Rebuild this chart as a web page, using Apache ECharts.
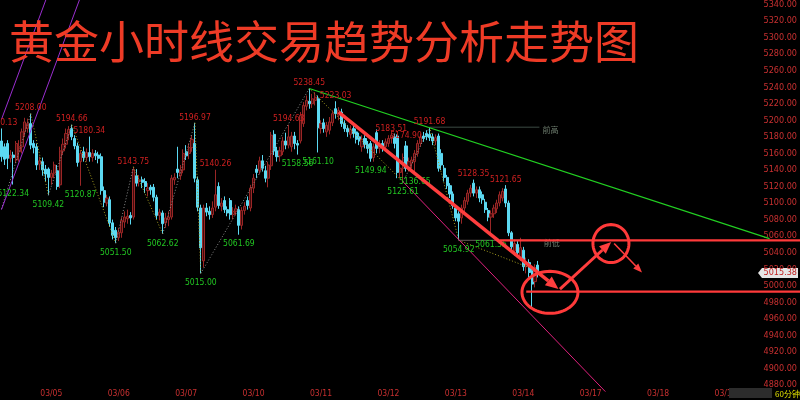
<!DOCTYPE html>
<html><head><meta charset="utf-8">
<script src="https://cdn.jsdelivr.net/npm/echarts@6/dist/echarts.min.js"></script>
<style>html,body{margin:0;padding:0;background:#000;}#c{width:800px;height:400px;}</style>
</head><body><div id="c"></div>
<script>
// ---------- data ----------
const titleText = '黄金小时线交易趋势分析走势图';
const dayLabels = ['03/04','03/05','03/06','03/07','03/10','03/11','03/12','03/13','03/14','03/17','03/18','03/19'];
const barsPerDay = [17,23,23,23,23,23,23,23,23,23,23,16];
const yMin = 4880, yMax = 5340, yStep = 20;
const lastPrice = 5015.38;
// [open, close, low, high]
const candles = [
[5175,5156,5150,5190.13],[5168,5153,5146,5172],[5172,5154,5141,5176],[5154,5158,5149,5164],[5158,5155,5122.34,5162],
[5152,5172,5148,5175],[5162,5168,5150,5176],[5168,5186,5160,5190],[5186,5198,5180,5203],[5190,5196,5185,5202],
[5196,5170,5165,5208.00],[5172,5167,5160,5176],[5168,5146,5140,5172],[5147,5151,5140,5156],[5150,5140,5133,5155],
[5141,5135,5126,5146],[5141,5131,5109.42,5143],[5131,5136,5122,5140],[5136,5146,5130,5150],[5139,5120,5116,5146],
[5122,5163,5118,5168],[5163,5171,5158,5178],[5171,5184,5166,5190],[5183,5189,5176,5193],[5190,5180,5176,5194.66],
[5178,5169,5165,5182],[5169,5149,5144,5173],[5150,5160,5120.87,5164],[5162,5155,5150,5168],[5155,5161,5150,5166],
[5161,5156,5150,5180.34],[5155,5160,5150,5165],[5160,5157,5152,5164],[5158,5154,5148,5162],[5156,5115,5110,5160],
[5115,5101,5095,5120],[5100,5106,5096,5110],[5104,5076,5071,5108],[5076,5061,5056,5080],[5067,5058,5051.50,5071],
[5058,5065,5054,5070],[5064,5079,5058,5083],[5077,5083,5070,5090],[5081,5084,5075,5092],[5085,5082,5074,5089],
[5083,5140,5080,5143.75],[5133,5124,5120,5141],[5126,5128,5120,5134],[5128,5125,5118,5132],[5126,5120,5112,5130],
[5115,5118,5108,5124],[5119,5116,5110,5122],[5119,5107,5102,5123],[5107,5085,5080,5110],[5085,5089,5079,5093],
[5088,5075,5062.62,5091],[5076,5082,5070,5088],[5080,5083,5072,5090],[5083,5130,5080,5134],[5128,5131,5122,5136],
[5141,5137,5130,5168],[5133,5140,5128,5146],[5140,5160,5136,5165],[5162,5157,5152,5170],[5160,5167,5153,5172],
[5167,5177,5162,5182],[5172,5130,5125,5196.97],[5128,5095,5090,5132],[5094,5046,5015.00,5098],[5030,5094,5022,5098],
[5094,5089,5084,5100],[5090,5086,5080,5096],[5086,5094,5082,5102],[5095,5110,5090,5140.26],[5120,5097,5093,5125],
[5096,5100,5090,5106],[5103,5092,5088,5108],[5092,5088,5084,5096],[5103,5086,5080,5106],[5086,5090,5080,5095],
[5090,5093,5085,5098],[5092,5073,5061.69,5096],[5073,5091,5068,5095],[5091,5096,5086,5101],[5103,5097,5092,5108],
[5094,5118,5090,5122],[5118,5130,5112,5135],[5141,5137,5130,5146],[5139,5151,5135,5156],[5151,5142,5138,5158],
[5139,5130,5125,5145],[5130,5146,5119,5150],[5145,5182,5140,5186],[5183,5163,5158,5188],[5163,5156,5150,5168],
[5157,5163,5150,5168],[5162,5175,5158,5180],[5175,5170,5165,5185],[5170,5180,5166,5194.63],[5168,5181,5162,5186],
[5181,5172,5165,5186],[5172,5170,5158.56,5176],[5175,5206,5172,5210],[5196,5218,5192,5222],[5217,5224,5212,5230],
[5223,5220,5214,5238.45],[5220,5226,5215,5232],[5224,5228,5218,5234],[5226,5191,5161.10,5230],[5190,5196,5184,5200],
[5197,5190,5185,5202],[5186,5194,5180,5198],[5188,5198,5183,5204],[5197,5208,5193,5212],[5214,5208,5202,5223.03],
[5206,5212,5200,5216],[5210,5196,5192,5214],[5196,5190,5186,5200],[5190,5186,5180,5194],[5183,5189,5178,5194],
[5190,5184,5179,5194],[5186,5177,5172,5190],[5180,5175,5170,5185],[5168,5177,5162,5182],[5178,5171,5166,5182],
[5171,5166,5160,5175],[5172,5154,5149.94,5175],[5155,5168,5150,5172],[5185,5166,5160,5189],[5166,5172,5160,5176],
[5172,5168,5162,5176],[5168,5174,5162,5178],[5172,5178,5168,5182],[5178,5182,5172,5183.51],[5180,5172,5166,5184],
[5181,5137,5130,5183],[5137,5142,5130,5148],[5142,5155,5125.61,5160],[5169,5142,5138,5174.90],[5142,5150,5138,5155],
[5148,5152,5142,5156],[5150,5160,5136.65,5164],[5160,5172,5156,5176],[5172,5180,5168,5184],[5181,5178,5174,5186],
[5184,5180,5176,5188],[5183,5179,5175,5191.68],[5180,5175,5170,5184],[5175,5179,5170,5183],[5181,5142,5138,5184],
[5160,5146,5140,5165],[5142,5131,5126,5146],[5131,5121,5117,5134],[5121,5111,5106,5124],[5111,5097,5093,5114],
[5094,5082,5078,5097],[5087,5078,5054.92,5090],[5082,5094,5075,5098],[5094,5103,5088,5107],[5102,5112,5098,5116],
[5112,5118,5107,5122],[5124,5112,5108,5128.35],[5112,5116,5106,5120],[5116,5106,5101,5120],[5110,5104,5099,5114],
[5101,5092,5088,5105],[5091,5083,5078,5094],[5083,5087,5061.35,5091],[5087,5094,5082,5098],[5093,5100,5088,5104],
[5100,5110,5096,5114],[5106,5114,5102,5118],[5117,5100,5095,5121.65],[5100,5064,5060,5103],[5064,5047,5042,5066],
[5042,5051,5036,5056],[5050,5040,5034,5054],[5034,5046,5030,5058],[5043,5023,5018,5047],[5023,5028,5015,5034],
[5028,5016,5010,5032],[5018,5002,4974,5022],[5005,5022,4998,5026],[5025,5015.38,5010,5030]
];
// swing labels [barIndex, price]
const highPivots = [[0,5190.13],[10,5208.00],[24,5194.66],[30,5180.34],[45,5143.75],[66,5196.97],[73,5140.26],[98,5194.63],[105,5238.45],[114,5223.03],[133,5183.51],[138,5174.90],[146,5191.68],[161,5128.35],[172,5121.65]];
const lowPivots = [[4,5122.34],[16,5109.42],[27,5120.87],[39,5051.50],[55,5062.62],[68,5015.00],[81,5061.69],[101,5158.56],[108,5161.10],[126,5149.94],[137,5125.61],[141,5136.65],[156,5054.92],[167,5061.35]];
// zigzag path [barIndex, price]
const zigzag = [[0,5093],[10,5208],[16,5109.42],[24,5194.66],[39,5051.5],[45,5143.75],[55,5062.62],[66,5196.97],[68,5015],[105,5238.45],[137,5125.61],[146,5191.68],[156,5054.92],[180,5022]];
// drawn trend lines [[i,p],[i,p]]
const purpleA = [[0,5092],[30,5378]];
const purpleB = [[0,5201],[20,5392]];
const magentaLine = [[137,5125.61],[206,4872]];
const greenLine = [[105,5238.45],[262,5057]];
const arrowMain = [[115,5210],[190,4996]];
const arrowUp = [[190.5,4996],[208,5053]];
const arrowDown = [[209,5051],[218.5,5016]];
const prevHigh = {price:5191.68, from:146, to:183.5, text:'前高'};
const prevLow = {price:5054.92, from:156, to:184, text:'前低'};
const redLevels = [{price:5054.92, from:170},{price:4993, from:179}];
const circles = [{i:187.1, p:4992, rx:28, ry:21},{i:207.9, p:5051, rx:18, ry:19}];

// ---------- build ----------
const categories = [];
dayLabels.forEach((d,k)=>{ for(let h=0;h<barsPerDay[k];h++) categories.push(d+' '+String(h).padStart(2,'0')); });
const dayStarts = new Set();
{ let s=0; barsPerDay.forEach((n,k)=>{ if(k>0) dayStarts.add(s); s+=n; }); }

const NARROW = '"Liberation Sans Narrow","Arial Narrow","DejaVu Sans Condensed",sans-serif';
const chart = echarts.init(document.getElementById('c'));
chart.setOption({
  backgroundColor:'#000',
  animation:false,
  grid:{left:0,right:29,top:3.5,bottom:15},
  xAxis:{type:'category',data:categories,boundaryGap:true,
    axisLine:{show:false},axisTick:{show:false},splitLine:{show:false},
    axisLabel:{interval:(idx)=>dayStarts.has(idx),formatter:v=>v.slice(0,5),color:'#c83030',fontSize:8.5,fontFamily:NARROW,margin:4}},
  yAxis:{type:'value',position:'right',min:yMin,max:yMax,interval:yStep,
    axisLine:{show:false},axisTick:{show:false},splitLine:{show:false},
    axisLabel:{formatter:v=>v.toFixed(2),color:'#c83030',fontSize:9,fontFamily:NARROW,margin:26,align:'right',showMinLabel:true,showMaxLabel:true}},
  series:[{type:'candlestick',data:candles,barWidth:2.6,
    itemStyle:{color:'#3e0c0c',color0:'#5cd9f2',borderColor:'#9a2626',borderColor0:'#5cd9f2',borderWidth:1}}]
});

const x0 = chart.convertToPixel({xAxisIndex:0}, categories[0]);
const x1 = chart.convertToPixel({xAxisIndex:0}, categories[1]);
const X = i => x0 + i*(x1-x0);
const Y = p => chart.convertToPixel({yAxisIndex:0}, p);
const P = ([i,p]) => [X(i), Y(p)];

const g = [];
function line(a,b,stroke,w,dash,z){ g.push({type:'line',silent:true,z:z||20,shape:{x1:a[0],y1:a[1],x2:b[0],y2:b[1]},style:{stroke,lineWidth:w,lineDash:dash||null}}); }
function arrow(a,b,stroke,w,L,hw){
  const dx=b[0]-a[0], dy=b[1]-a[1], len=Math.hypot(dx,dy), ux=dx/len, uy=dy/len;
  const bx=b[0]-ux*L, by=b[1]-uy*L;
  line(a,[bx,by],stroke,w,null,30);
  g.push({type:'polygon',silent:true,z:30,shape:{points:[[b[0],b[1]],[bx-uy*hw,by+ux*hw],[bx+uy*hw,by-ux*hw]]},style:{fill:stroke}});
}
function text(x,y,t,fill,font,align,valign,z){ g.push({type:'text',silent:true,z:z||25,x,y,style:{text:t,fill,font,textAlign:align,textVerticalAlign:valign,align:align,verticalAlign:valign}}); }

// purple channel lines
line(P(purpleA[0]),P(purpleA[1]),'#9a2ed0',1);
line(P(purpleB[0]),P(purpleB[1]),'#9a2ed0',1);
// zigzag dotted legs
for(let k=0;k<zigzag.length-1;k++){
  const up = zigzag[k+1][1] > zigzag[k][1];
  line(P(zigzag[k]),P(zigzag[k+1]), up?'#8c8c8c':'#a8a020',1,[1,2],15);
}
// prev high/low grey lines
line(P([prevHigh.from,prevHigh.price]),P([prevHigh.to,prevHigh.price]),'#3c4a44',1);
text(X(prevHigh.to)+3,Y(prevHigh.price)+3,prevHigh.text,'#6f7f70','8px "Noto Sans CJK SC"','left','middle');
line(P([prevLow.from,prevLow.price]),P([prevLow.to,prevLow.price]),'#6a5a5a',1);
text(X(prevLow.to)+3,Y(prevLow.price)+3,prevLow.text,'#6f7f70','8px "Noto Sans CJK SC"','left','middle');
// magenta and green trend lines
line(P(magentaLine[0]),P(magentaLine[1]),'#e0207e',1);
line(P(greenLine[0]),P(greenLine[1]),'#22d022',1.2);
// red levels to right edge
redLevels.forEach(r=>line([X(r.from),Y(r.price)],[800,Y(r.price)],'#ff3a3a',2.2,null,40));
// arrows
arrow(P(arrowMain[0]),P(arrowMain[1]),'#ff3e3e',3.5,13,5.5);
arrow(P(arrowUp[0]),P(arrowUp[1]),'#ff3e3e',3,12,5);
arrow(P(arrowDown[0]),P(arrowDown[1]),'#ff3e3e',1.6,9,3.5);
// ellipses
circles.forEach(c=>{
  const cx=X(c.i), cy=Y(c.p), pts=[];
  for(let k=0;k<64;k++){ const t=k/64*Math.PI*2; pts.push([cx+c.rx*Math.cos(t), cy+c.ry*Math.sin(t)]); }
  g.push({type:'polygon',silent:true,z:35,shape:{points:pts},style:{fill:null,stroke:'#ff3a3a',lineWidth:3}});
});
// swing labels
highPivots.forEach(([i,p])=>text(X(i),Y(p)-1,p.toFixed(2),'#d02020','8.5px '+NARROW,'center','bottom'));
lowPivots.forEach(([i,p])=>text(X(i),Y(p)+5,p.toFixed(2),'#22c622','8.5px '+NARROW,'center','top'));
// current price box
{ const yy=Y(lastPrice);
  g.push({type:'polygon',silent:true,z:45,shape:{points:[[758,yy],[762,yy-5],[798,yy-5],[798,yy+5],[762,yy+5]]},style:{fill:'#e4e4e4'}});
  text(797,yy,lastPrice.toFixed(2),'#c02020','9px '+NARROW,'right','middle',46);
}
// title
text(9,42,titleText,'#ee3b26','45px "Noto Sans CJK SC"','left','middle',50);
// bottom right
g.push({type:'rect',silent:true,z:40,shape:{x:729,y:388,width:43,height:10},style:{fill:'#2c2c2c'}});
text(775,393.5,'60分钟','#e0e000','8px "Noto Sans CJK SC"','left','middle',41);

chart.setOption({graphic:{elements:g}});
</script></body></html>
